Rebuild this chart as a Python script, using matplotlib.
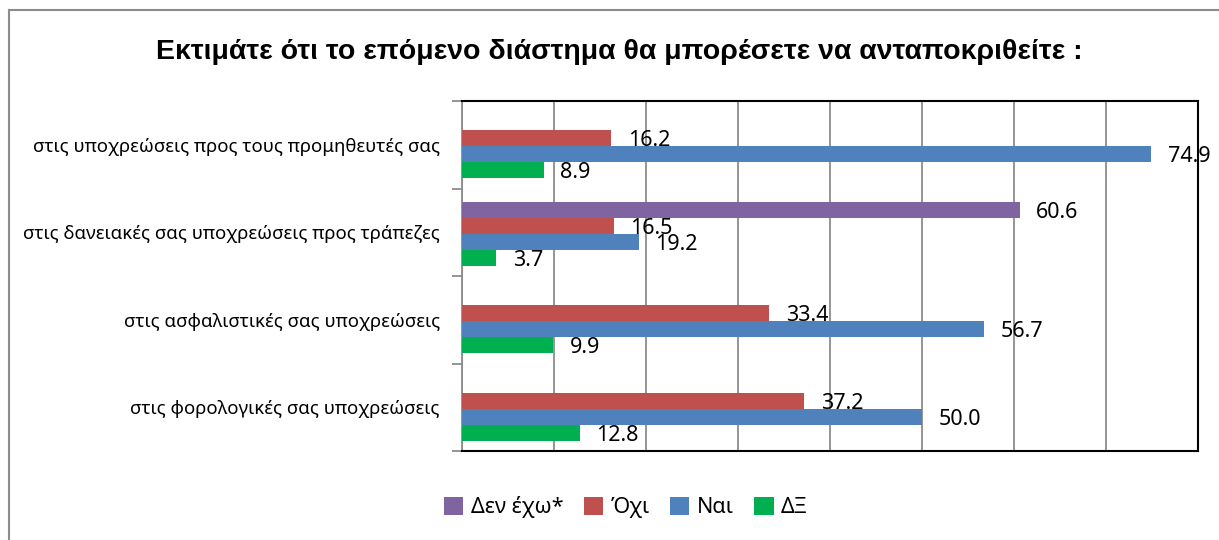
import numpy as np
import matplotlib.pyplot as plt
from matplotlib.lines import Line2D

plt.rcParams['font.family'] = ['Noto Sans', 'DejaVu Sans']

# δεδομένα
categories = [
    'στις υποχρεώσεις προς τους προμηθευτές σας',
    'στις δανειακές σας υποχρεώσεις προς τράπεζες',
    'στις ασφαλιστικές σας υποχρεώσεις',
    'στις φορολογικές σας υποχρεώσεις',
]
series_names = ['Δεν έχω*', 'Όχι', 'Ναι', 'ΔΞ']
den_exo = [np.nan, 60.6, np.nan, np.nan]
oxi = [16.2, 16.5, 33.4, 37.2]
nai = [74.9, 19.2, 56.7, 50.0]
dx = [8.9, 3.7, 9.9, 12.8]
colors = ['#8064A2', '#C0504D', '#4F81BD', '#00B050']

values = [den_exo, oxi, nai, dx]

fig = plt.figure(figsize=(12.19, 5.40), dpi=100)
ax = fig.add_axes([462 / 1219, 1 - 451 / 540, (1198 - 462) / 1219, 350 / 540])

h = 0.182
offsets = [-0.255, -0.073, 0.109, 0.291]
y = np.arange(len(categories))

for vals, name, col, off in zip(values, series_names, colors, offsets):
    vals = np.array(vals, dtype=float)
    ax.barh(y + off, vals, height=h, color=col, label=name, zorder=3)
    for yi, v in zip(y, vals):
        if np.isnan(v):
            continue
        ax.text(v + 1.8, yi + off + 0.03, f'{v:.1f}', va='center', ha='left',
                fontsize=15.5, color='black', zorder=4)

ax.set_xlim(0, 80)
ax.set_ylim(3.5, -0.5)
ax.set_xticks(np.arange(0, 81, 10))
ax.set_xticklabels([])
ax.tick_params(axis='x', length=0)
ax.grid(axis='x', color='#8c8c8c', linewidth=1.3, zorder=0)

ax.set_yticks(y)
ax.set_yticklabels(categories, fontsize=13.4)
ax.set_yticks(np.arange(-0.5, 3.6, 1), minor=True)
ax.tick_params(axis='y', which='major', length=0, pad=16)
ax.tick_params(axis='y', which='minor', length=7, color='#8c8c8c', width=1.3)

for s in ['top', 'right', 'bottom']:
    ax.spines[s].set_color('black')
    ax.spines[s].set_linewidth(1.5)
ax.spines['left'].set_color('#8c8c8c')
ax.spines['left'].set_linewidth(1.3)

fig.text(619 / 1219, 1 - 52 / 540,
         'Εκτιμάτε ότι το επόμενο διάστημα θα μπορέσετε να ανταποκριθείτε :',
         ha='center', va='center', fontsize=20.5, fontweight='bold',
         family=['Liberation Sans', 'DejaVu Sans'])

handles, labels = ax.get_legend_handles_labels()
fig.legend(handles, labels, loc='center', bbox_to_anchor=(626 / 1219, 1 - 507 / 540),
           ncol=4, frameon=False, fontsize=15.5, handlelength=0.9, handleheight=0.9,
           handletextpad=0.35, columnspacing=0.95)

# πλαίσιο γραφήματος (αριστερά και πάνω)
fig.add_artist(Line2D([9 / 1219, 9 / 1219], [0, 1 - 10 / 540], transform=fig.transFigure,
                      color='#8c8c8c', linewidth=1.5))
fig.add_artist(Line2D([9 / 1219, 1], [1 - 10 / 540, 1 - 10 / 540], transform=fig.transFigure,
                      color='#8c8c8c', linewidth=1.5))

fig.savefig('out.png', dpi=100)
